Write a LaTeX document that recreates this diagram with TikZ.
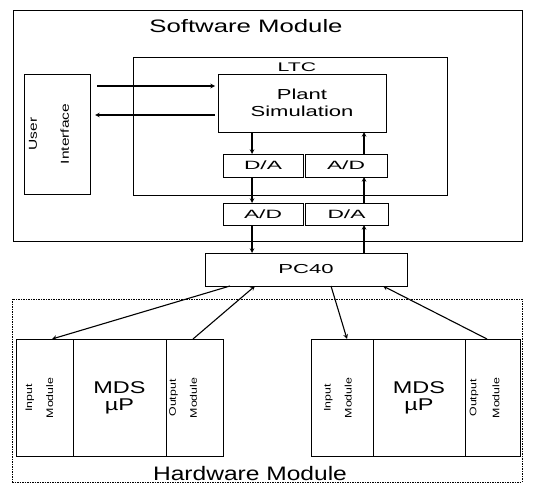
\documentclass[tikz,border=0pt]{standalone}
\usepackage{fontspec}
\setmainfont{Liberation Sans}
\usetikzlibrary{positioning}
\newcommand{\wide}[2]{\scalebox{#1}[1]{#2}}
\tikzstyle{bordered} = [draw,line width=0.8,outer sep=0,inner sep=1,align=center]
\tikzstyle{arrow} = [-stealth,line width=1.1]
\tikzstyle{sidetext} = [rotate=90,align=center,inner sep=0]

\begin{document}
\begin{tikzpicture}[x=1pt,y=-1pt]
    \useasboundingbox (0,0) rectangle (534,484);
    % software side
    \node [bordered,minimum width=509,minimum height=231] (sw) at (267.5,125.5) {};
    \node (swtitle) at (246,26) {\fontsize{18}{20}\selectfont\wide{1.43}{Software Module}};
    \node [bordered,minimum width=314,minimum height=138] (ltc) at (290,126) {};
    \node (ltctitle) at (297,67) {\fontsize{12.5}{14}\selectfont\wide{1.7}{LTC}};
    \node [bordered,minimum width=66,minimum height=120] (ui) at (57,134) {};
    \node [sidetext,font=\fontsize{11.5}{32}\selectfont] (uitext) at (49,134) {\wide{1.35}{User}\\\wide{1.35}{Interface}};
    \node [bordered,minimum width=168,minimum height=58,font=\fontsize{14.5}{17}\selectfont] (plant) at (302,103) {\wide{1.52}{Plant}\\\wide{1.52}{Simulation}};
    \node [bordered,minimum width=80,minimum height=23,font=\fontsize{12}{14}\selectfont] (da1) at (263,165.5) {\wide{1.9}{D/A}};
    \node [bordered,minimum width=82,minimum height=23,font=\fontsize{12}{14}\selectfont] (ad1) at (346,165.5) {\wide{1.9}{A/D}};
    \node [bordered,minimum width=80,minimum height=22,font=\fontsize{12}{14}\selectfont] (ad2) at (263,214) {\wide{1.9}{A/D}};
    \node [bordered,minimum width=83,minimum height=22,font=\fontsize{12}{14}\selectfont] (da2) at (346.5,214) {\wide{1.9}{D/A}};
    \node [bordered,minimum width=202,minimum height=33,font=\fontsize{13}{14}\selectfont] (pc) at (306,269.5) {\wide{1.7}{PC40}};
    % hardware side
    \node [draw,dash pattern=on 1.5pt off 1pt,line width=0.6,outer sep=0,minimum width=510,minimum height=183] (hw) at (267,390.5) {};
    \node (hwtitle) at (250,474) {\fontsize{19.5}{21}\selectfont\wide{1.26}{Hardware Module}};
    \node [bordered,minimum width=57,minimum height=117] (in1) at (44.5,397.5) {};
    \node [bordered,minimum width=93,minimum height=117,font=\fontsize{17}{17}\selectfont] (mds1) at (119.5,397.5) {\wide{1.38}{MDS}\\\wide{1.38}{µP}};
    \node [bordered,minimum width=57,minimum height=117] (out1) at (194.5,397.5) {};
    \node [bordered,minimum width=62,minimum height=117] (in2) at (342,397.5) {};
    \node [bordered,minimum width=92,minimum height=117,font=\fontsize{17}{17}\selectfont] (mds2) at (419,397.5) {\wide{1.38}{MDS}\\\wide{1.38}{µP}};
    \node [bordered,minimum width=55,minimum height=117] (out2) at (492.5,397.5) {};
    \node [sidetext,font=\fontsize{9.5}{21}\selectfont] (in1text) at (39.5,398) {\wide{1.3}{Input}\\\wide{1.3}{Module}};
    \node [sidetext,font=\fontsize{9.5}{21}\selectfont] (out1text) at (183,398) {\wide{1.3}{Output}\\\wide{1.3}{Module}};
    \node [sidetext,font=\fontsize{9.5}{21}\selectfont] (in2text) at (338,398) {\wide{1.3}{Input}\\\wide{1.3}{Module}};
    \node [sidetext,font=\fontsize{9.5}{23}\selectfont] (out2text) at (484.5,398) {\wide{1.3}{Output}\\\wide{1.3}{Module}};
    % connections
    \coordinate (colL) at (252,0);
    \coordinate (colR) at (364,0);
    \coordinate (rowA) at (0,86);
    \coordinate (rowB) at (0,115);
    \draw [arrow,shorten <=7,shorten >=3] (ui.east |- rowA) -- (plant.west |- rowA);
    \draw [arrow,shorten <=3,shorten >=5] (plant.west |- rowB) -- (ui.east |- rowB);
    \draw [arrow] (plant.south -| colL) -- (da1.north -| colL);
    \draw [arrow] (da1.south -| colL) -- (ad2.north -| colL);
    \draw [arrow] (ad2.south -| colL) -- (pc.north -| colL);
    \draw [arrow] (pc.north -| colR) -- (da2.south -| colR);
    \draw [arrow] (da2.north -| colR) -- (ad1.south -| colR);
    \draw [arrow] (ad1.north -| colR) -- (plant.south -| colR);
    \draw [arrow] ([xshift=25]pc.south west) -- ([xshift=7.5]in1.north);
    \draw [arrow] ([xshift=-1.5]out1.north) -- ([xshift=50]pc.south west);
    \draw [arrow] ([xshift=126]pc.south west) -- ([xshift=5]in2.north);
    \draw [arrow] ([xshift=-5.5]out2.north) -- ([xshift=178]pc.south west);
\end{tikzpicture}
\end{document}
